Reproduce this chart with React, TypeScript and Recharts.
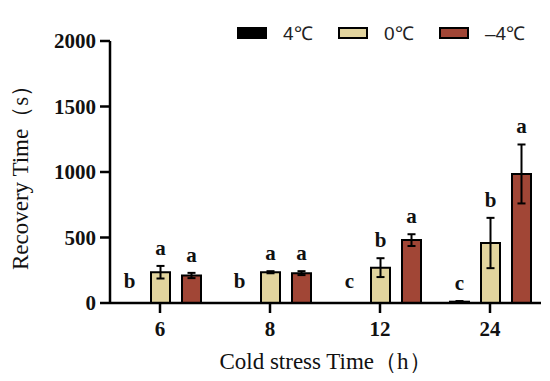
import React from 'react';
import { Bar, BarChart, ErrorBar, LabelList, Legend, XAxis, YAxis } from 'recharts';

const hours = ['6', '8', '12', '24'];
const warm = [0, 0, 0, 10];
const warmErr = [0, 0, 0, 5];
const warmSig = ['b', 'b', 'c', 'c'];
const zero = [235, 235, 270, 458];
const zeroErr = [48, 8, 72, 192];
const zeroSig = ['a', 'a', 'b', 'b'];
const cold = [210, 228, 480, 985];
const coldErr = [20, 15, 45, 225];
const coldSig = ['a', 'a', 'a', 'a'];
const yTicks = [0, 500, 1000, 1500, 2000];

const series = [
  { key: 'warm', name: '4℃', color: '#000000', vals: warm, errs: warmErr, sig: warmSig },
  { key: 'zero', name: '0℃', color: '#E2D49E', vals: zero, errs: zeroErr, sig: zeroSig },
  { key: 'cold', name: '–4℃', color: '#A14636', vals: cold, errs: coldErr, sig: coldSig },
];

const data = hours.map((h, i) => ({
  hour: h,
  warm: warm[i],
  warmErr: warmErr[i],
  zero: zero[i],
  zeroErr: zeroErr[i],
  cold: cold[i],
  coldErr: coldErr[i],
}));

const serif = '"Liberation Serif", "Times New Roman", serif';

const makeLetter = (sig: string[], errs: number[], vals: number[]) => (props: any) => {
  const { x, y, width, height, index } = props;
  const v = vals[index];
  const pxPerUnit = v > 0 ? Math.abs(height) / v : 0;
  const top = y - errs[index] * pxPerUnit;
  return (
    <text
      x={x + width / 2}
      y={top - (v > 0 ? 11 : 15)}
      textAnchor="middle"
      fontFamily={serif}
      fontWeight="bold"
      fontSize={21}
      fill="#111"
    >
      {sig[index]}
    </text>
  );
};

const LegendBox = () => (
  <div style={{ display: 'flex', alignItems: 'center', fontFamily: '"Liberation Sans", Arial, sans-serif', fontSize: 19, color: '#222' }}>
    {series.map((s) => (
      <div key={s.key} style={{ display: 'flex', alignItems: 'center', width: 101 }}>
        <span style={{ width: 26, height: 8, background: s.color, border: '2px solid #000', marginRight: 16, display: 'inline-block' }} />
        <span>{s.name}</span>
      </div>
    ))}
  </div>
);

const App = () => {
  return (
    <div style={{ position: 'absolute', left: 0, top: 0, width: 550, height: 381, background: '#fff' }}>
      <BarChart
        width={550}
        height={381}
        data={data}
        margin={{ top: 15, right: 9, bottom: 0, left: 0 }}
        barSize={19}
        barGap={12}
      >
        <XAxis
          dataKey="hour"
          height={78}
          padding={{ left: -5, right: -4 }}
          axisLine={{ stroke: '#000', strokeWidth: 2.5 }}
          tickLine={{ stroke: '#000', strokeWidth: 2.5 }}
          tickSize={10}
          tickMargin={8}
          tick={{ fill: '#111', fontFamily: serif, fontWeight: 'bold', fontSize: 21 }}
          label={{ value: 'Cold stress Time（h）', position: 'insideBottom', offset: 12, fill: '#111', fontFamily: serif, fontSize: 23 }}
        />
        <YAxis
          width={110}
          domain={[0, 2000]}
          ticks={yTicks}
          axisLine={{ stroke: '#000', strokeWidth: 2.5 }}
          tickLine={{ stroke: '#000', strokeWidth: 2.5 }}
          tickSize={10}
          tickMargin={4}
          tick={{ fill: '#111', fontFamily: serif, fontWeight: 'bold', fontSize: 21 }}
          label={{ value: 'Recovery Time（s）', angle: -90, position: 'insideLeft', offset: 20, fill: '#111', fontFamily: serif, fontSize: 23, style: { textAnchor: 'middle' } }}
        />
        <Legend
          verticalAlign="top"
          content={<LegendBox />}
          wrapperStyle={{ top: 20, left: 237, width: 320 }}
        />
        {series.map((s) => (
          <Bar
            key={s.key}
            dataKey={s.key}
            name={s.name}
            fill={s.color}
            stroke="#000"
            strokeWidth={2}
            minPointSize={0.01}
            isAnimationActive={false}
          >
            <ErrorBar dataKey={`${s.key}Err`} width={4} stroke="#000" strokeWidth={2} direction="y" />
            <LabelList dataKey={s.key} content={makeLetter(s.sig, s.errs, s.vals)} />
          </Bar>
        ))}
      </BarChart>
    </div>
  );
};

export default App;
